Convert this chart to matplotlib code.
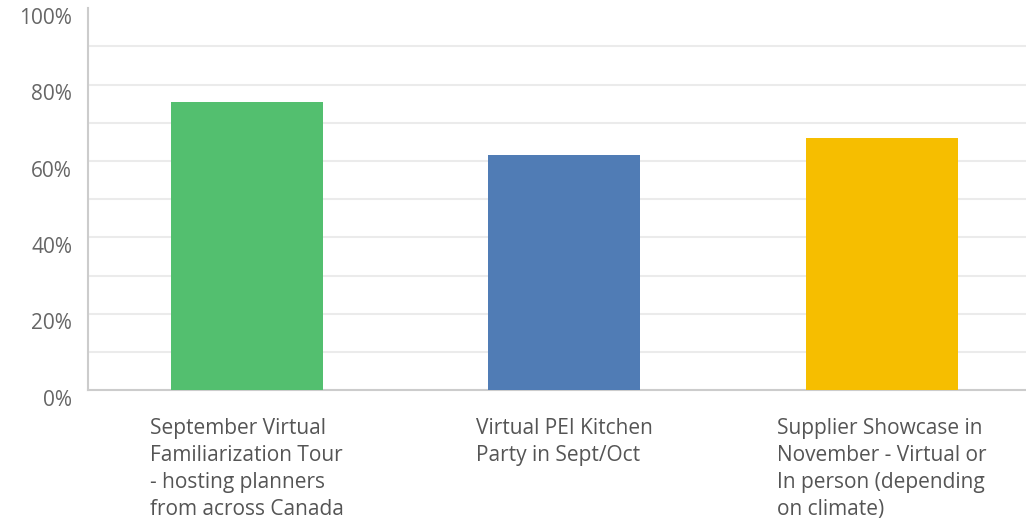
import matplotlib
matplotlib.use("Agg")
import matplotlib.pyplot as plt
import matplotlib.transforms as mtransforms

categories = [
    "September Virtual\nFamiliarization Tour\n- hosting planners\nfrom across Canada",
    "Virtual PEI Kitchen\nParty in Sept/Oct",
    "Supplier Showcase in\nNovember - Virtual or\nIn person (depending\non climate)",
]
values = [75.5, 61.6, 66.1]
colors = ["#53BF6F", "#507CB5", "#F6BE00"]
yticks = [0, 20, 40, 60, 80, 100]
ytick_labels = ["0%", "20%", "40%", "60%", "80%", "100%"]

plt.rcParams["font.family"] = ["Open Sans", "DejaVu Sans"]
W, H = 1026, 519
fig = plt.figure(figsize=(W / 100, H / 100), dpi=100)
ax = fig.add_axes([88 / W, (H - 390.3) / H, (1040.5 - 88) / W, (390.3 - 8.3) / H])

x = list(range(len(values)))
ax.bar(x, values, width=0.48, color=colors, zorder=3)
ax.set_xlim(-0.5, 2.5)
ax.set_ylim(0, 100)

for v in range(10, 100, 10):
    ax.axhline(v, color="#EBEBEB", lw=1.5, zorder=1)

for s in ["top", "right"]:
    ax.spines[s].set_visible(False)
for s in ["left", "bottom"]:
    ax.spines[s].set_color("#CCCCCC")
    ax.spines[s].set_linewidth(1.5)

ax.set_yticks(yticks)
ax.set_yticklabels([])
ax.tick_params(axis="y", length=0)
offset = mtransforms.ScaledTranslation(-16 / 100, -10 / 100, fig.dpi_scale_trans)
for yv, lab in zip(yticks, ytick_labels):
    ax.text(0, yv, lab, transform=ax.get_yaxis_transform() + offset,
            ha="right", va="center", fontsize=15, color="#666666", clip_on=False)

ax.set_xticks(x)
ax.set_xticklabels(categories, fontsize=15, color="#555555", linespacing=1.38)
for lab in ax.get_xticklabels():
    lab.set_multialignment("left")
    lab.set_verticalalignment("top")
ax.tick_params(axis="x", length=0, pad=20)

fig.savefig("out.png", dpi=100)
